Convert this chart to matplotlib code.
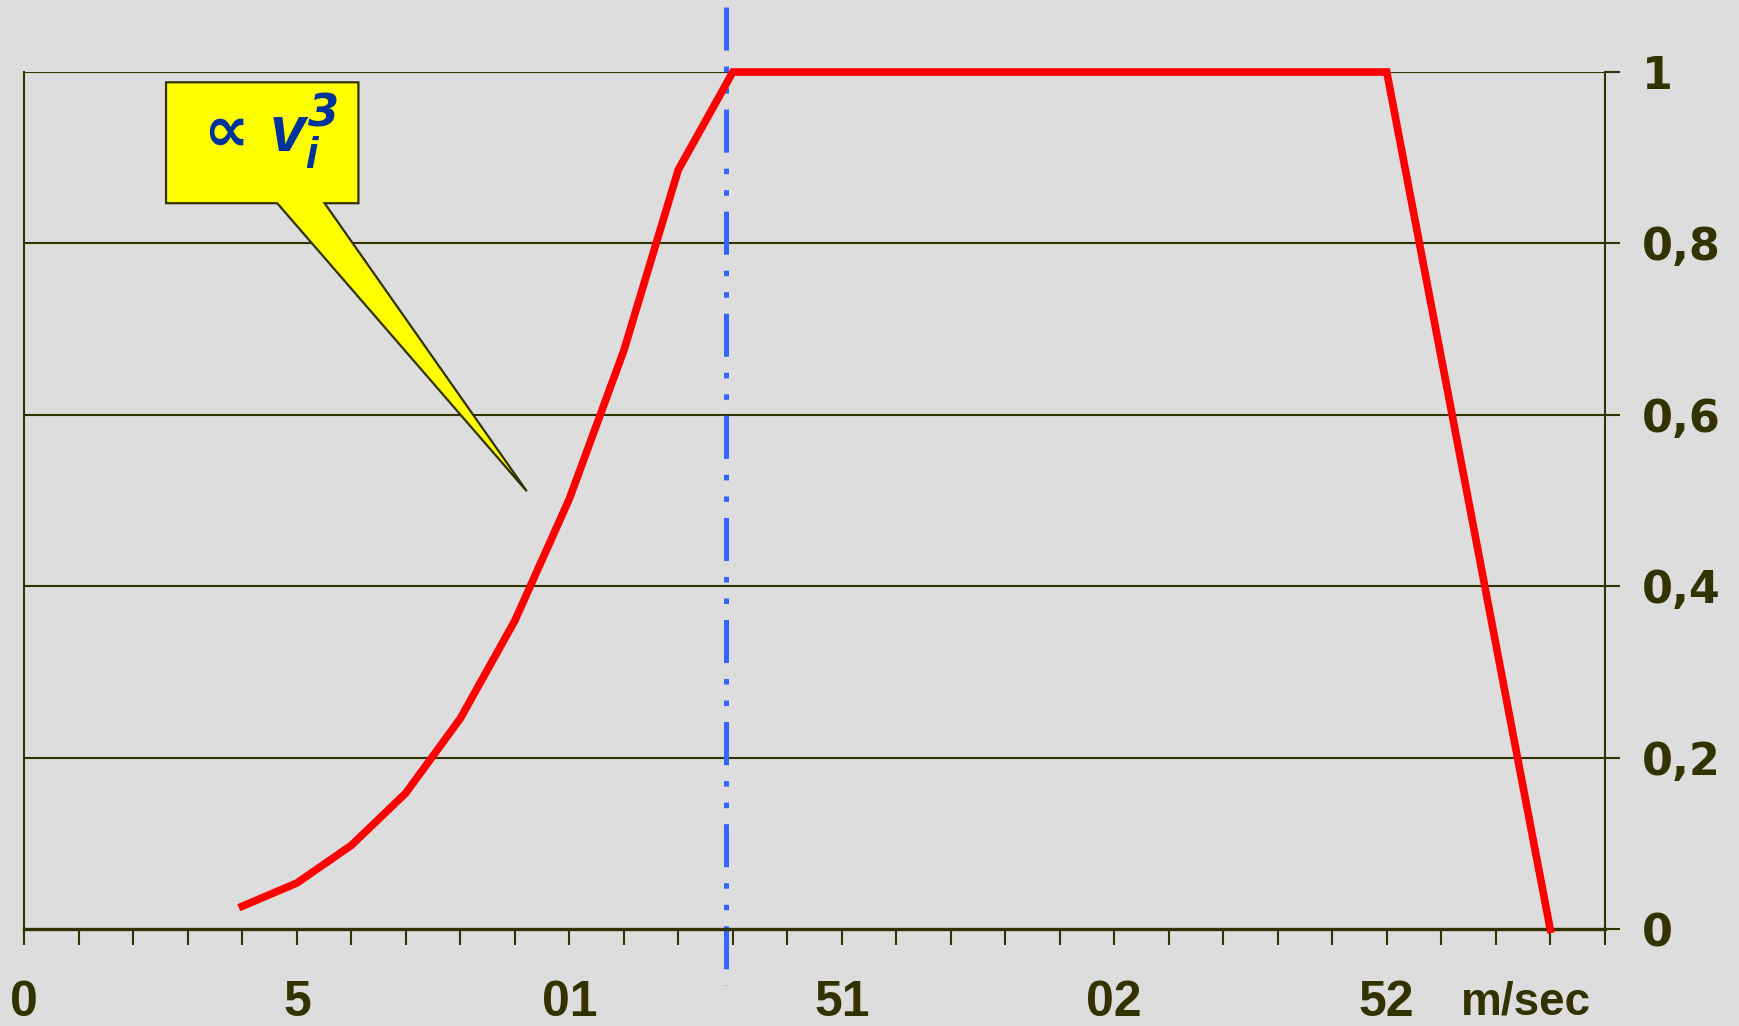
import matplotlib
matplotlib.use('Agg')
import matplotlib.pyplot as plt
from matplotlib.patches import Polygon
from matplotlib.transforms import blended_transform_factory

# power curve, normalised output vs wind speed
speed = [4, 5, 6, 7, 8, 9, 10, 11, 12, 13, 25, 28]
power = [0.027, 0.054, 0.098, 0.159, 0.246, 0.36, 0.502, 0.675, 0.886, 1.0, 1.0, 0.0]
rated_speed = 12.88

xtick_pos = [0, 5, 10, 15, 20, 25]
xtick_labels = ['0', '5', '01', '51', '02', '52']
ytick_pos = [0, 0.2, 0.4, 0.6, 0.8, 1.0]
ytick_labels = ['0', '0,2', '0,4', '0,6', '0,8', '1']

bg = '#dddddd'
ink = '#333300'
plt.rcParams['lines.scale_dashes'] = False
plt.rcParams['mathtext.fontset'] = 'custom'
plt.rcParams['mathtext.it'] = 'Liberation Sans:bold:italic'
plt.rcParams['mathtext.rm'] = 'DejaVu Sans:bold:italic'

fig = plt.figure(figsize=(17.39, 10.26), dpi=100, facecolor=bg)
ax = fig.add_axes([0.014, 0.0942, 0.9088, 0.8356], facecolor=bg)
ax.set_xlim(0, 29)
ax.set_ylim(0, 1)

ax.spines['top'].set_visible(False)
ax.spines['left'].set_color(ink)
ax.spines['right'].set_color(ink)
ax.spines['left'].set_linewidth(1.5)
ax.spines['right'].set_linewidth(1.5)
ax.spines['bottom'].set_color(ink)
ax.spines['bottom'].set_linewidth(2.4)

# horizontal grid
for y in ytick_pos[1:]:
    ax.axhline(y, color=ink, lw=1.5, zorder=1)

ax.yaxis.tick_right()
ax.set_yticks(ytick_pos)
ax.set_yticklabels(ytick_labels, fontsize=32, fontweight='heavy', color=ink, family='DejaVu Sans')
ax.tick_params(axis='y', direction='out', length=11, width=1.5, color=ink, pad=16)

ax.set_xticks(range(0, 30), minor=True)
ax.set_xticks(xtick_pos)
ax.set_xticklabels(xtick_labels, fontsize=36, fontweight='bold', color=ink,
                   family=['Liberation Sans Narrow', 'Liberation Sans'])
ax.tick_params(axis='x', which='both', direction='out', length=11.5, width=1.5, color=ink, pad=25)

trans = blended_transform_factory(ax.transData, ax.transAxes)
ax.text(27.55, -0.085, 'm/sec', transform=trans, fontsize=33, fontweight='bold', color=ink,
        ha='center', va='center', family=['Liberation Sans Narrow', 'Liberation Sans'])

# rated speed marker
ax.plot([rated_speed, rated_speed], [1.076, -0.065], color='#3366ff', lw=3.6,
        linestyle=(0, (31, 11.5, 4, 11.5, 4, 11.5)), clip_on=False, zorder=2)

ax.plot(speed, power, color='#ff0000', lw=5.5, solid_joinstyle='miter', zorder=3, clip_on=False)

# callout
callout = Polygon([(2.6, 0.988), (6.13, 0.988), (6.13, 0.847), (5.51, 0.847),
                   (9.22, 0.511), (4.64, 0.847), (2.6, 0.847)],
                  closed=True, facecolor='#ffff00', edgecolor=ink, lw=1.6, zorder=4)
ax.add_patch(callout)
ax.text(4.42, 0.907, r'$\propto\,v_i^{\mathit{3}}$', fontsize=46, color='#003399',
        ha='center', va='baseline', zorder=5)

fig.savefig('out.png', dpi=100, facecolor=bg)
